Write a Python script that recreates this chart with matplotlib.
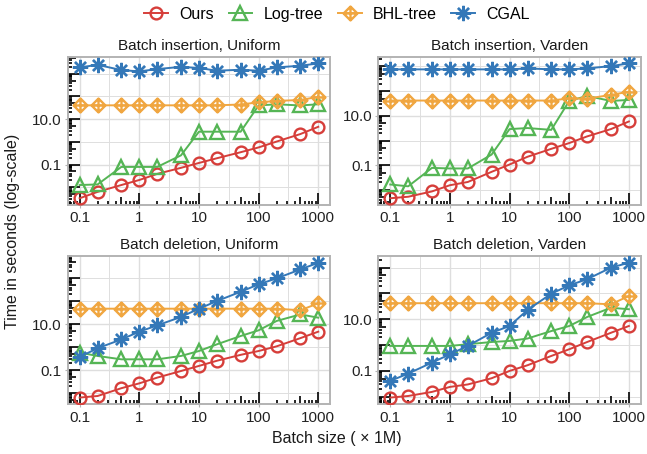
import numpy as np
import matplotlib.pyplot as plt
from matplotlib.path import Path
from matplotlib.ticker import FixedLocator, NullFormatter

plt.rcParams['font.family'] = ['Liberation Sans', 'DejaVu Sans']

batch_sizes = [0.1, 0.2, 0.5, 1, 2, 5, 10, 20, 50, 100, 200, 500, 1000]
methods = ['Ours', 'Log-tree', 'BHL-tree', 'CGAL']
titles = ['Batch insertion, Uniform', 'Batch insertion, Varden',
          'Batch deletion, Uniform', 'Batch deletion, Varden']

# seconds, one list per method and panel
ins_uni_ours = [0.0033, 0.0063, 0.0126, 0.021, 0.039, 0.072, 0.118, 0.19, 0.35, 0.57, 1.03, 2.2, 4.6]
ins_uni_log = [0.0126, 0.0134, 0.079, 0.079, 0.079, 0.255, 2.8, 2.8, 2.8, 40, 45, 40, 45]
ins_uni_bhl = [40.5, 40.5, 40.5, 40.5, 40.5, 40.5, 40.5, 40.5, 44, 55, 63, 70, 95]
ins_uni_cgal = [1884, 2450, 1440, 1260, 1590, 2000, 1780, 1350, 1490, 1350, 1884, 2240, 2820]

ins_var_ours = [0.0046, 0.0053, 0.0087, 0.0155, 0.021, 0.054, 0.107, 0.22, 0.46, 0.79, 1.47, 2.9, 5.9]
ins_var_log = [0.0166, 0.014, 0.078, 0.074, 0.074, 0.27, 2.9, 3.2, 2.7, 40, 64, 40, 44]
ins_var_bhl = [41.5, 41.5, 41.5, 41.5, 41.5, 41.5, 41.5, 41.5, 41.5, 51, 50, 70, 95]
ins_var_cgal = [760, 760, 760, 760, 760, 760, 760, 830, 760, 760, 830, 1030, 1320]

del_uni_ours = [0.0065, 0.0076, 0.0166, 0.027, 0.048, 0.093, 0.155, 0.26, 0.47, 0.69, 1.1, 2.5, 4.8]
del_uni_log = [0.59, 0.42, 0.30, 0.30, 0.30, 0.42, 0.69, 1.35, 3.1, 5.5, 14, 27, 19.5]
del_uni_bhl = [48, 48, 48, 48, 48, 48, 48, 48, 48, 48, 48, 41, 82]
del_uni_cgal = [0.38, 0.91, 2.2, 4.8, 9.0, 21, 48, 103, 262, 550, 1000, 2450, 4800]

del_var_ours = [0.0093, 0.0107, 0.0154, 0.024, 0.030, 0.052, 0.1, 0.166, 0.38, 0.69, 1.32, 3.0, 5.5]
del_var_log = [0.93, 0.93, 0.93, 0.93, 1.08, 1.32, 1.45, 1.8, 3.5, 5.5, 12.3, 28, 24.5]
del_var_bhl = [42, 42, 42, 42, 42, 42, 42, 42, 42, 42, 42, 38, 80]
del_var_cgal = [0.041, 0.079, 0.21, 0.44, 0.93, 3.0, 5.5, 23, 98, 207, 357, 1000, 1550]

panels = [
    [ins_uni_ours, ins_uni_log, ins_uni_bhl, ins_uni_cgal],
    [ins_var_ours, ins_var_log, ins_var_bhl, ins_var_cgal],
    [del_uni_ours, del_uni_log, del_uni_bhl, del_uni_cgal],
    [del_var_ours, del_var_log, del_var_bhl, del_var_cgal],
]

x_ticks = [0.1, 1, 10, 100, 1000]
x_ticklabels = ['0.1', '1', '10', '100', '1000']
y_ticks = [0.1, 10]
y_ticklabels = ['0.1', '10.0']

colors = ['#D63E3A', '#55B555', '#F0A640', '#3478B8']

# diamond with a plus inside (like R pch 9)
diamond_plus = Path(
    [(0, 1), (1, 0), (0, -1), (-1, 0), (0, 1), (0, 1), (0, -1), (-1, 0), (1, 0)],
    [Path.MOVETO, Path.LINETO, Path.LINETO, Path.LINETO, Path.CLOSEPOLY,
     Path.MOVETO, Path.LINETO, Path.MOVETO, Path.LINETO])
markers = ['o', '^', diamond_plus, (8, 2, 0)]
msizes = [8.5, 9.5, 10, 11]

GRID = '#DEDEDE'
BORDER = '#B3B3B3'


def add_logticks(axis, lo, hi):
    locs, lengths = [], []
    for k in range(int(np.floor(np.log10(lo))), int(np.ceil(np.log10(hi))) + 1):
        for m in range(1, 10):
            locs.append(m * 10.0 ** k)
            lengths.append(8.5 if m == 1 else (5.5 if m == 5 else 3.0))
    axis.remove_overlapping_locs = False
    axis.set_minor_locator(FixedLocator(locs))
    axis.set_minor_formatter(NullFormatter())
    for tick, length in zip(axis.get_minor_ticks(len(locs)), lengths):
        tick.tick1line.set_markersize(length)
        tick.tick2line.set_visible(False)


fig = plt.figure(figsize=(6.47, 4.54), dpi=100)
W, H = 647.0, 454.0
lefts = [67.7, 378.3]
tops = [56.7, 256.0]
pw, ph = 262.5, 148.3

handles = []
for i, (title, series) in enumerate(zip(titles, panels)):
    r, c = divmod(i, 2)
    ax = fig.add_axes([lefts[c] / W, 1 - (tops[r] + ph) / H, pw / W, ph / H])
    ax.set_xscale('log')
    ax.set_yscale('log')
    for j, vals in enumerate(series):
        ln, = ax.plot(batch_sizes, vals, color=colors[j], lw=1.4,
                      marker=markers[j], ms=msizes[j], mfc='none',
                      mec=colors[j], mew=1.7, label=methods[j], zorder=3 + j)
        if i == 0:
            handles.append(ln)
    xlim = ax.get_xlim()
    ylim = ax.get_ylim()
    ax.set_xlim(xlim)
    ax.set_ylim(ylim)

    # grid: majors at the labelled breaks, minors halfway between them
    for e in np.arange(-3, 7.5, 0.5):
        v = 10.0 ** e
        if xlim[0] < v < xlim[1]:
            ax.axvline(v, color=GRID, lw=1.0 if e == int(e) else 0.7, zorder=0)
    for e in range(-4, 6):
        v = 10.0 ** e
        if ylim[0] < v < ylim[1]:
            ax.axhline(v, color=GRID, lw=1.0 if e in (-1, 1) else 0.7, zorder=0)

    ax.xaxis.set_major_locator(FixedLocator(x_ticks))
    ax.set_xticklabels(x_ticklabels)
    ax.yaxis.set_major_locator(FixedLocator(y_ticks))
    ax.set_yticklabels(y_ticklabels)
    ax.tick_params(which='major', direction='out', length=2.5, width=0.8,
                   color=BORDER, labelsize=11, labelcolor='#222222', pad=2)
    ax.tick_params(which='minor', direction='in', width=1.2, color='black',
                   top=False, right=False)
    add_logticks(ax.xaxis, *xlim)
    add_logticks(ax.yaxis, *ylim)

    for s in ax.spines.values():
        s.set_color(BORDER)
        s.set_linewidth(1.4)
    ax.set_title(title, fontsize=11, color='#1A1A1A', pad=5)

fig.legend(handles, methods, loc='center', bbox_to_anchor=(0.521, 1 - 14.5 / H),
           ncol=4, frameon=False, fontsize=11.5, handlelength=1.5,
           handletextpad=0.7, columnspacing=0.9)
fig.text(0.521, 1 - 438 / H, 'Batch size ( \u00d7 1M)', ha='center', va='center',
         fontsize=11.5, color='#1A1A1A')
fig.text(0.019, 1 - 231 / H, 'Time in seconds (log-scale)', ha='center',
         va='center', rotation=90, fontsize=11.5, color='#1A1A1A')

fig.savefig('out.png', dpi=100)
